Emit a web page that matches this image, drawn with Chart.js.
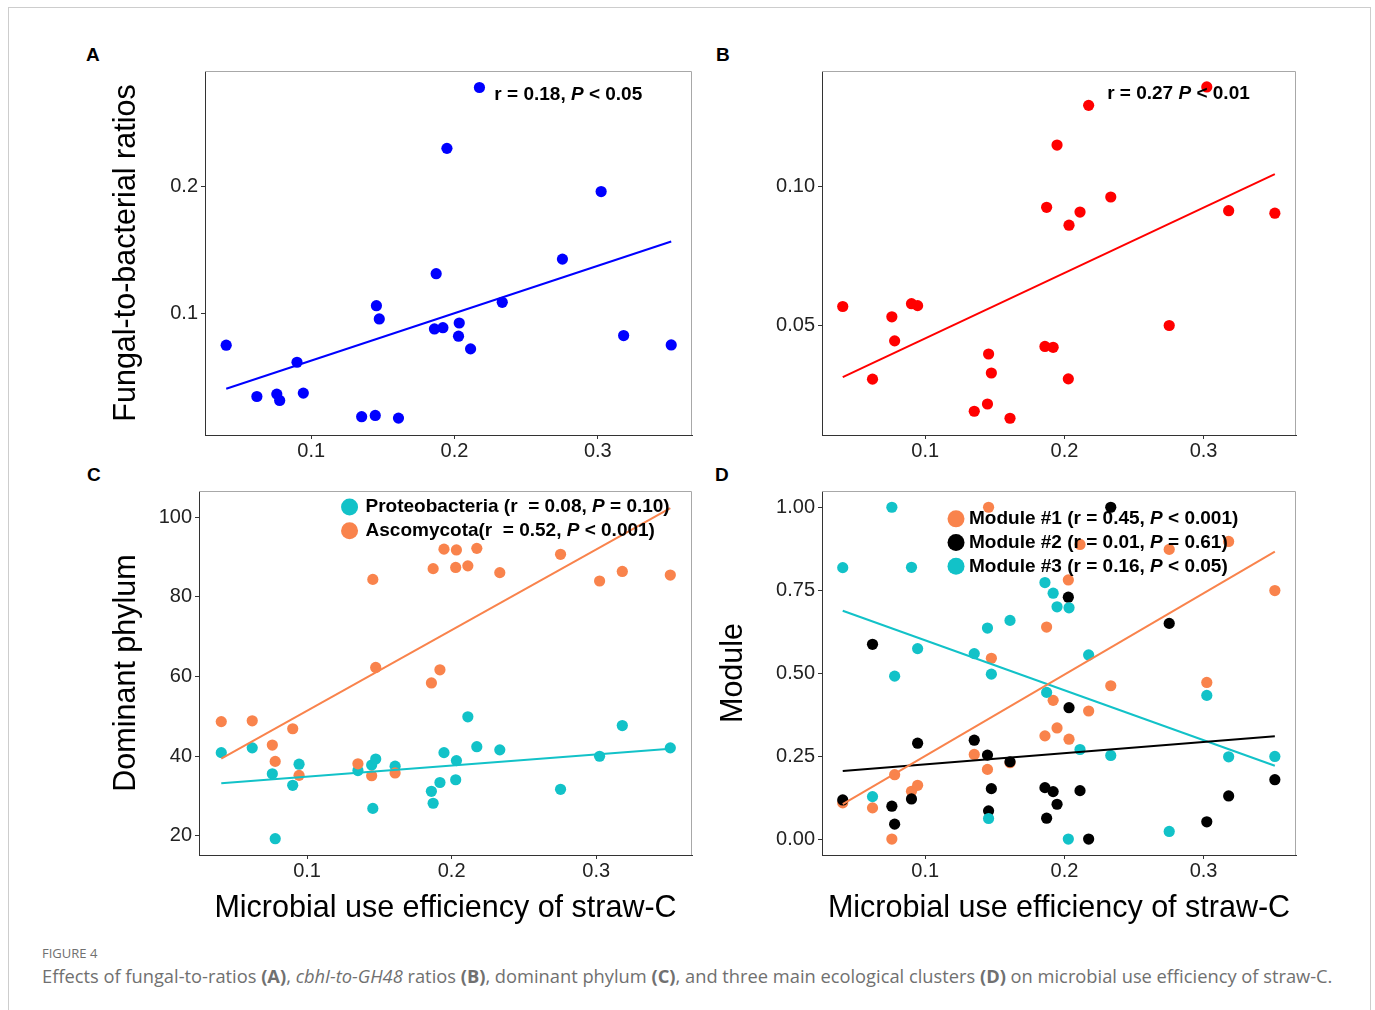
<!DOCTYPE html>
<html>
<head>
<meta charset="utf-8">
<script src="https://cdn.jsdelivr.net/npm/chart.js@4.4.1/dist/chart.umd.min.js"></script>
<style>
  body { margin: 0; background: #fff; width: 1375px; height: 1010px; overflow: hidden; position: relative;
         font-family: "Liberation Sans", Arial, sans-serif; }
  .frame { position: absolute; left: 8px; top: 7px; width: 1361px; height: 1100px; border: 1px solid #cdcdcd; }
  canvas { position: absolute; }
  .tag { position: absolute; font-weight: bold; font-size: 19px; line-height: 19px; color: #000; }
  .fig { position: absolute; left: 42px; top: 944px; font: 13px "Open Sans", Lato, sans-serif; color: #707070; }
  .cap { position: absolute; left: 42px; top: 963px; font: 18.3px "Open Sans", Lato, sans-serif; color: #707070; white-space: nowrap; }
</style>
</head>
<body>
<div class="frame"></div>
<div class="tag" style="left:86px;top:45px">A</div>
<div class="tag" style="left:716px;top:45px">B</div>
<div class="tag" style="left:87px;top:465px">C</div>
<div class="tag" style="left:715px;top:465px">D</div>
<canvas id="cA" width="610" height="440" style="left:90px;top:40px"></canvas>
<canvas id="cB" width="610" height="440" style="left:700px;top:40px"></canvas>
<canvas id="cC" width="610" height="480" style="left:90px;top:460px"></canvas>
<canvas id="cD" width="610" height="480" style="left:700px;top:460px"></canvas>
<div class="fig">FIGURE 4</div>
<div class="cap">Effects of fungal-to-ratios <b>(A)</b>, <i>cbhI-to-GH48</i> ratios <b>(B)</b>, dominant phylum <b>(C)</b>, and three main ecological clusters <b>(D)</b> on microbial use efficiency of straw-C.</div>
<script>
// microbial use efficiency of straw-C (shared by all panels)
const xMUE = [0.0407, 0.0621, 0.0760, 0.0780, 0.0901, 0.0945, 0.1352, 0.1447, 0.1455, 0.1475, 0.1609, 0.1860,
              0.1872, 0.1919, 0.1947, 0.2028, 0.2033, 0.2112, 0.2174, 0.2333, 0.2753, 0.3023, 0.3180, 0.3512];

// A
const fungalBacterial = [0.0754, 0.0350, 0.0369, 0.0319, 0.0620, 0.0377, 0.0191, 0.0201, 0.1065, 0.0961, 0.0180, 0.0882,
                         0.1317, 0.0892, 0.2304, 0.0825, 0.0929, 0.0725, 0.2783, 0.1092, 0.1432, 0.1964, 0.0830, 0.0756];
// B
const cbhGH48 = [0.0569, 0.0309, 0.0532, 0.0446, 0.0579, 0.0572, 0.0194, 0.0220, 0.0399, 0.0331, 0.0169, 0.0426,
                 0.0924, 0.0423, 0.1147, 0.0310, 0.0860, 0.0907, 0.1289, 0.0961, 0.0501, 0.1355, 0.0912, 0.0903];
// C
const proteobacteria = [40.9, 42.1, 35.6, 19.3, 32.7, 38.0, 36.4, 37.8, 26.9, 39.3, 37.5, 31.2,
                        28.2, 33.4, 40.9, 34.1, 38.9, 49.9, 42.4, 41.6, 31.7, 40.0, 47.7, 42.1];
const ascomycota = [48.7, 48.9, 42.8, 38.7, 46.9, 35.2, 38.1, 35.1, 84.4, 62.3, 35.8, 58.4,
                    87.1, 61.7, 92.0, 87.4, 91.8, 87.8, 92.2, 86.1, 90.7, 84.0, 86.4, 85.5];
// D
const module1 = [0.109, 0.094, 0.000, 0.194, 0.144, 0.162, 0.255, 0.210, 1.000, 0.545, 0.230, 0.311,
                 0.639, 0.418, 0.335, 0.781, 0.301, 0.888, 0.386, 0.462, 0.873, 0.472, 0.897, 0.749];
const module2 = [0.118, 0.587, 0.099, 0.045, 0.121, 0.289, 0.298, 0.253, 0.085, 0.152, 0.233, 0.155,
                 0.063, 0.143, 0.105, 0.729, 0.396, 0.146, 0.000, 1.000, 0.650, 0.052, 0.130, 0.179];
const module3 = [0.818, 0.128, 1.000, 0.491, 0.819, 0.574, 0.559, 0.636, 0.062, 0.497, 0.659, 0.773,
                 0.442, 0.741, 0.700, 0.000, 0.697, 0.270, 0.555, 0.252, 0.023, 0.433, 0.248, 0.249];

// fitted lines, values at the two ends of xMUE
const fitX = [0.0407, 0.3512];
const fitA = [0.0411, 0.1571];
const fitB = [0.0316, 0.1043];
const fitProteo = [33.2, 41.9];
const fitAsco = [39.4, 102.3];
const fitM1 = [0.105, 0.866];
const fitM2 = [0.205, 0.310];
const fitM3 = [0.688, 0.221];

const xTicks = [0.1, 0.2, 0.3];
const yTicksA = [0.1, 0.2];
const yTicksB = [0.05, 0.10];
const yTicksC = [20, 40, 60, 80, 100];
const yTicksD = [0, 0.25, 0.5, 0.75, 1];

const BLUE = '#0000ff', RED = '#ff0000', CYAN = '#12c2c8', ORANGE = '#f9834c', BLACK = '#000000';
const FONT = '"Liberation Sans", Arial, Helvetica, sans-serif';

const pts = ys => xMUE.map((x, i) => ({ x: x, y: ys[i] }));
const fit = ys => fitX.map((x, i) => ({ x: x, y: ys[i] }));

function dots(ys, color, order) {
  return { data: pts(ys), backgroundColor: color, borderWidth: 0, pointRadius: 5.6, order: order };
}
function line(ys, color) {
  return { type: 'line', data: fit(ys), borderColor: color, borderWidth: 2, pointRadius: 0, fill: false, order: 0 };
}

function scaleOpts(range, ticks, dec, title, size, horiz, titlePad) {
  return {
    type: 'linear', min: range[0], max: range[1],
    afterBuildTicks: s => { s.ticks = ticks.map(v => ({ value: v })); },
    afterFit: s => { if (horiz) s.height = size; else s.width = size; },
    grid: { drawOnChartArea: false, drawTicks: true, tickLength: 4, color: '#333', lineWidth: 1 },
    border: { display: true, color: '#333', width: 1 },
    ticks: { color: '#222', padding: horiz ? 0 : 3, font: { family: FONT, size: 20 }, callback: v => v.toFixed(dec) },
    title: title ? { display: true, text: title, color: '#000', font: { family: FONT, size: 30.5, lineHeight: 1 },
                     padding: horiz ? { top: 0, bottom: titlePad } : { top: titlePad, bottom: 0 } }
                 : { display: false }
  };
}

// text with *italic* parts
function drawRich(ctx, str, x, y, size, bold, align) {
  const parts = str.split('*');
  const fontOf = i => (i % 2 ? 'italic ' : '') + (bold ? 'bold ' : '') + size + 'px ' + FONT;
  let w = 0;
  parts.forEach((p, i) => { ctx.font = fontOf(i); w += ctx.measureText(p).width; });
  let cx = align === 'center' ? x - w / 2 : x;
  ctx.textAlign = 'left';
  ctx.textBaseline = 'middle';
  ctx.fillStyle = '#000';
  parts.forEach((p, i) => { ctx.font = fontOf(i); ctx.fillText(p, cx, y); cx += ctx.measureText(p).width; });
}

function notes(cfg) {
  return {
    id: 'notes',
    beforeDatasetsDraw(chart) {
      const { ctx, chartArea: a } = chart;
      ctx.save();
      ctx.strokeStyle = '#a8a8a8';
      ctx.lineWidth = 1;
      ctx.beginPath();
      ctx.moveTo(a.left, a.top + 0.5); ctx.lineTo(a.right - 0.5, a.top + 0.5); ctx.lineTo(a.right - 0.5, a.bottom);
      ctx.stroke();
      ctx.restore();
    },
    afterDraw(chart) {
      const { ctx, scales: { x, y }, chartArea: a } = chart;
      ctx.save();
      (cfg.texts || []).forEach(t => drawRich(ctx, t.text, x.getPixelForValue(t.x), y.getPixelForValue(t.y), 19, true));
      (cfg.keys || []).forEach(k => {
        const px = x.getPixelForValue(k.x), py = y.getPixelForValue(k.y);
        ctx.fillStyle = k.color;
        ctx.beginPath(); ctx.arc(px, py, 8.5, 0, Math.PI * 2); ctx.fill();
        drawRich(ctx, k.text, px + k.gap, py, 19, true);
      });
      if (cfg.yTitle) {
        ctx.translate(cfg.yTitle.x, (a.top + a.bottom) / 2);
        ctx.rotate(-Math.PI / 2);
        drawRich(ctx, cfg.yTitle.text, 0, 0, 30, false, 'center');
      }
      ctx.restore();
    }
  };
}

function buildChart(id, o) {
  return new Chart(document.getElementById(id), {
    type: 'scatter',
    data: { datasets: o.datasets },
    options: {
      responsive: false, animation: false, events: [],
      layout: { padding: { top: 31, right: o.padRight, bottom: 0, left: 0 } },
      plugins: { legend: { display: false }, tooltip: { enabled: false } },
      scales: {
        x: scaleOpts(o.xRange, xTicks, 1, o.xTitle, o.xHeight, true, 16),
        y: scaleOpts(o.yRange, o.yTicks, o.yDec, o.yTitle, o.yWidth, false, o.yTitlePad)
      }
    },
    plugins: [notes(o.notes)]
  });
}

buildChart('cA', {
  datasets: [line(fitA, BLUE), dots(fungalBacterial, BLUE, 1)],
  xRange: [0.0259, 0.3657], yRange: [0.0047, 0.2913], yTicks: yTicksA, yDec: 1,
  yTitle: 'Fungal-to-bacterial ratios', yTitlePad: 21, yWidth: 115, xHeight: 45, padRight: 8,
  notes: { texts: [{ x: 0.2278, y: 0.2728, text: 'r = 0.18, *P* < 0.05' }] }
});

buildChart('cB', {
  datasets: [line(fitB, RED), dots(cbhGH48, RED, 1)],
  xRange: [0.0258, 0.3664], yRange: [0.0109, 0.1412], yTicks: yTicksB, yDec: 2,
  yTitle: null, yTitlePad: 0, yWidth: 122, xHeight: 45, padRight: 14,
  notes: { texts: [{ x: 0.2307, y: 0.1329, text: 'r = 0.27 *P* < 0.01' }],
           yTitle: { x: 734, text: '*cbhI*-to-*GH48* ratios' } }
});

buildChart('cC', {
  datasets: [line(fitAsco, ORANGE), line(fitProteo, CYAN), dots(ascomycota, ORANGE, 1), dots(proteobacteria, CYAN, 2)],
  xRange: [0.0253, 0.3662], yRange: [15.2, 106.6], yTicks: yTicksC, yDec: 0,
  yTitle: 'Dominant phylum', yTitlePad: 21, yWidth: 109, xHeight: 85, padRight: 8,
  xTitle: 'Microbial use efficiency of straw-C',
  notes: { keys: [
    { x: 0.1294, y: 102.6, color: CYAN, gap: 16, text: 'Proteobacteria (r  = 0.08, *P* = 0.10)' },
    { x: 0.1294, y: 96.6, color: ORANGE, gap: 16, text: 'Ascomycota(r  = 0.52, *P* < 0.001)' }
  ] }
});

buildChart('cD', {
  datasets: [line(fitM1, ORANGE), line(fitM2, BLACK), line(fitM3, CYAN),
             dots(module3, CYAN, 1), dots(module2, BLACK, 2), dots(module1, ORANGE, 3)],
  xRange: [0.0258, 0.3664], yRange: [-0.048, 1.049], yTicks: yTicksD, yDec: 2,
  yTitle: 'Module', yTitlePad: 18, yWidth: 122, xHeight: 85, padRight: 14,
  xTitle: 'Microbial use efficiency of straw-C',
  notes: { keys: [
    { x: 0.1221, y: 0.965, color: ORANGE, gap: 13, text: 'Module #1 (r = 0.45, *P* < 0.001)' },
    { x: 0.1221, y: 0.894, color: BLACK, gap: 13, text: 'Module #2 (r = 0.01, *P* = 0.61)' },
    { x: 0.1221, y: 0.822, color: CYAN, gap: 13, text: 'Module #3 (r = 0.16, *P* < 0.05)' }
  ] }
});
</script>
</body>
</html>
